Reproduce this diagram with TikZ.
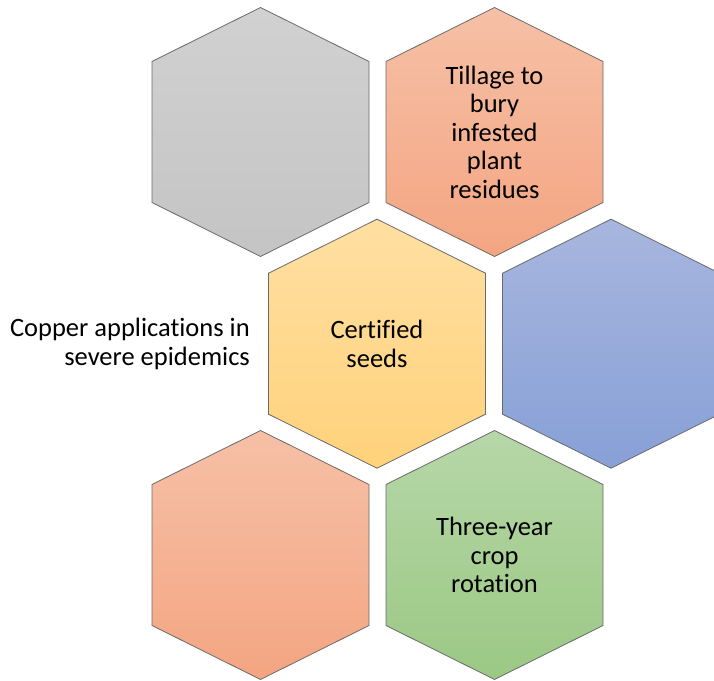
\documentclass[tikz,border=0pt]{standalone}
\usepackage{fontspec}
\setmainfont[Ligatures=NoCommon]{Carlito}

% fill shades, light at the top and darker at the bottom
\definecolor{greyTop}{HTML}{D1D1D1}
\definecolor{greyBot}{HTML}{C4C4C4}
\definecolor{salmonTop}{HTML}{F6C0A6}
\definecolor{salmonBot}{HTML}{F4A582}
\definecolor{sandTop}{HTML}{FFDFA2}
\definecolor{sandBot}{HTML}{FFD27B}
\definecolor{skyTop}{HTML}{A7B6DE}
\definecolor{skyBot}{HTML}{88A0D7}
\definecolor{leafTop}{HTML}{B6D7A8}
\definecolor{leafBot}{HTML}{9BC884}
\definecolor{hexline}{HTML}{6A6A6A}

\tikzset{
  pics/hexcell/.style={code={
    \path[pic actions] (0,124.5) -- (108.5,70.5) -- (108.5,-70.5) -- (0,-124.5)
      -- (-108.5,-70.5) -- (-108.5,70.5) -- cycle;
  }},
  cell/.style={draw=hexline, line width=0.8bp, line join=miter},
  celltext/.style={align=center, inner sep=0pt,
    font=\fontsize{26.5bp}{28.5bp}\selectfont}
}

\begin{document}
\begin{tikzpicture}[x=1bp, y=1bp]
  \useasboundingbox (0,0) rectangle (714,681);
  \clip (0,0) rectangle (714,681);

  % top row
  \pic[cell, top color=greyTop, bottom color=greyBot] at (260.5,549) {hexcell};
  \pic[cell, top color=salmonTop, bottom color=salmonBot] at (494.5,549) {hexcell};
  % middle row
  \pic[cell, top color=sandTop, bottom color=sandBot] at (377,337.3) {hexcell};
  \pic[cell, top color=skyTop, bottom color=skyBot] at (611,337.3) {hexcell};
  % bottom row
  \pic[cell, top color=salmonTop, bottom color=salmonBot] at (260.5,126) {hexcell};
  \pic[cell, top color=leafTop, bottom color=leafBot] at (494.5,126) {hexcell};

  \node[celltext] (tillage) at (494.5,549) {Tillage to\\bury\\infested\\plant\\residues};
  \node[celltext] (seeds) at (377,337.3) {Certified\\seeds};
  \node[celltext] (rotation) at (494.5,126) {Three-year\\crop\\rotation};
  \node[celltext, align=right, anchor=east] (copper) at (250,337.3) {Copper applications in\\severe epidemics};
\end{tikzpicture}
\end{document}
